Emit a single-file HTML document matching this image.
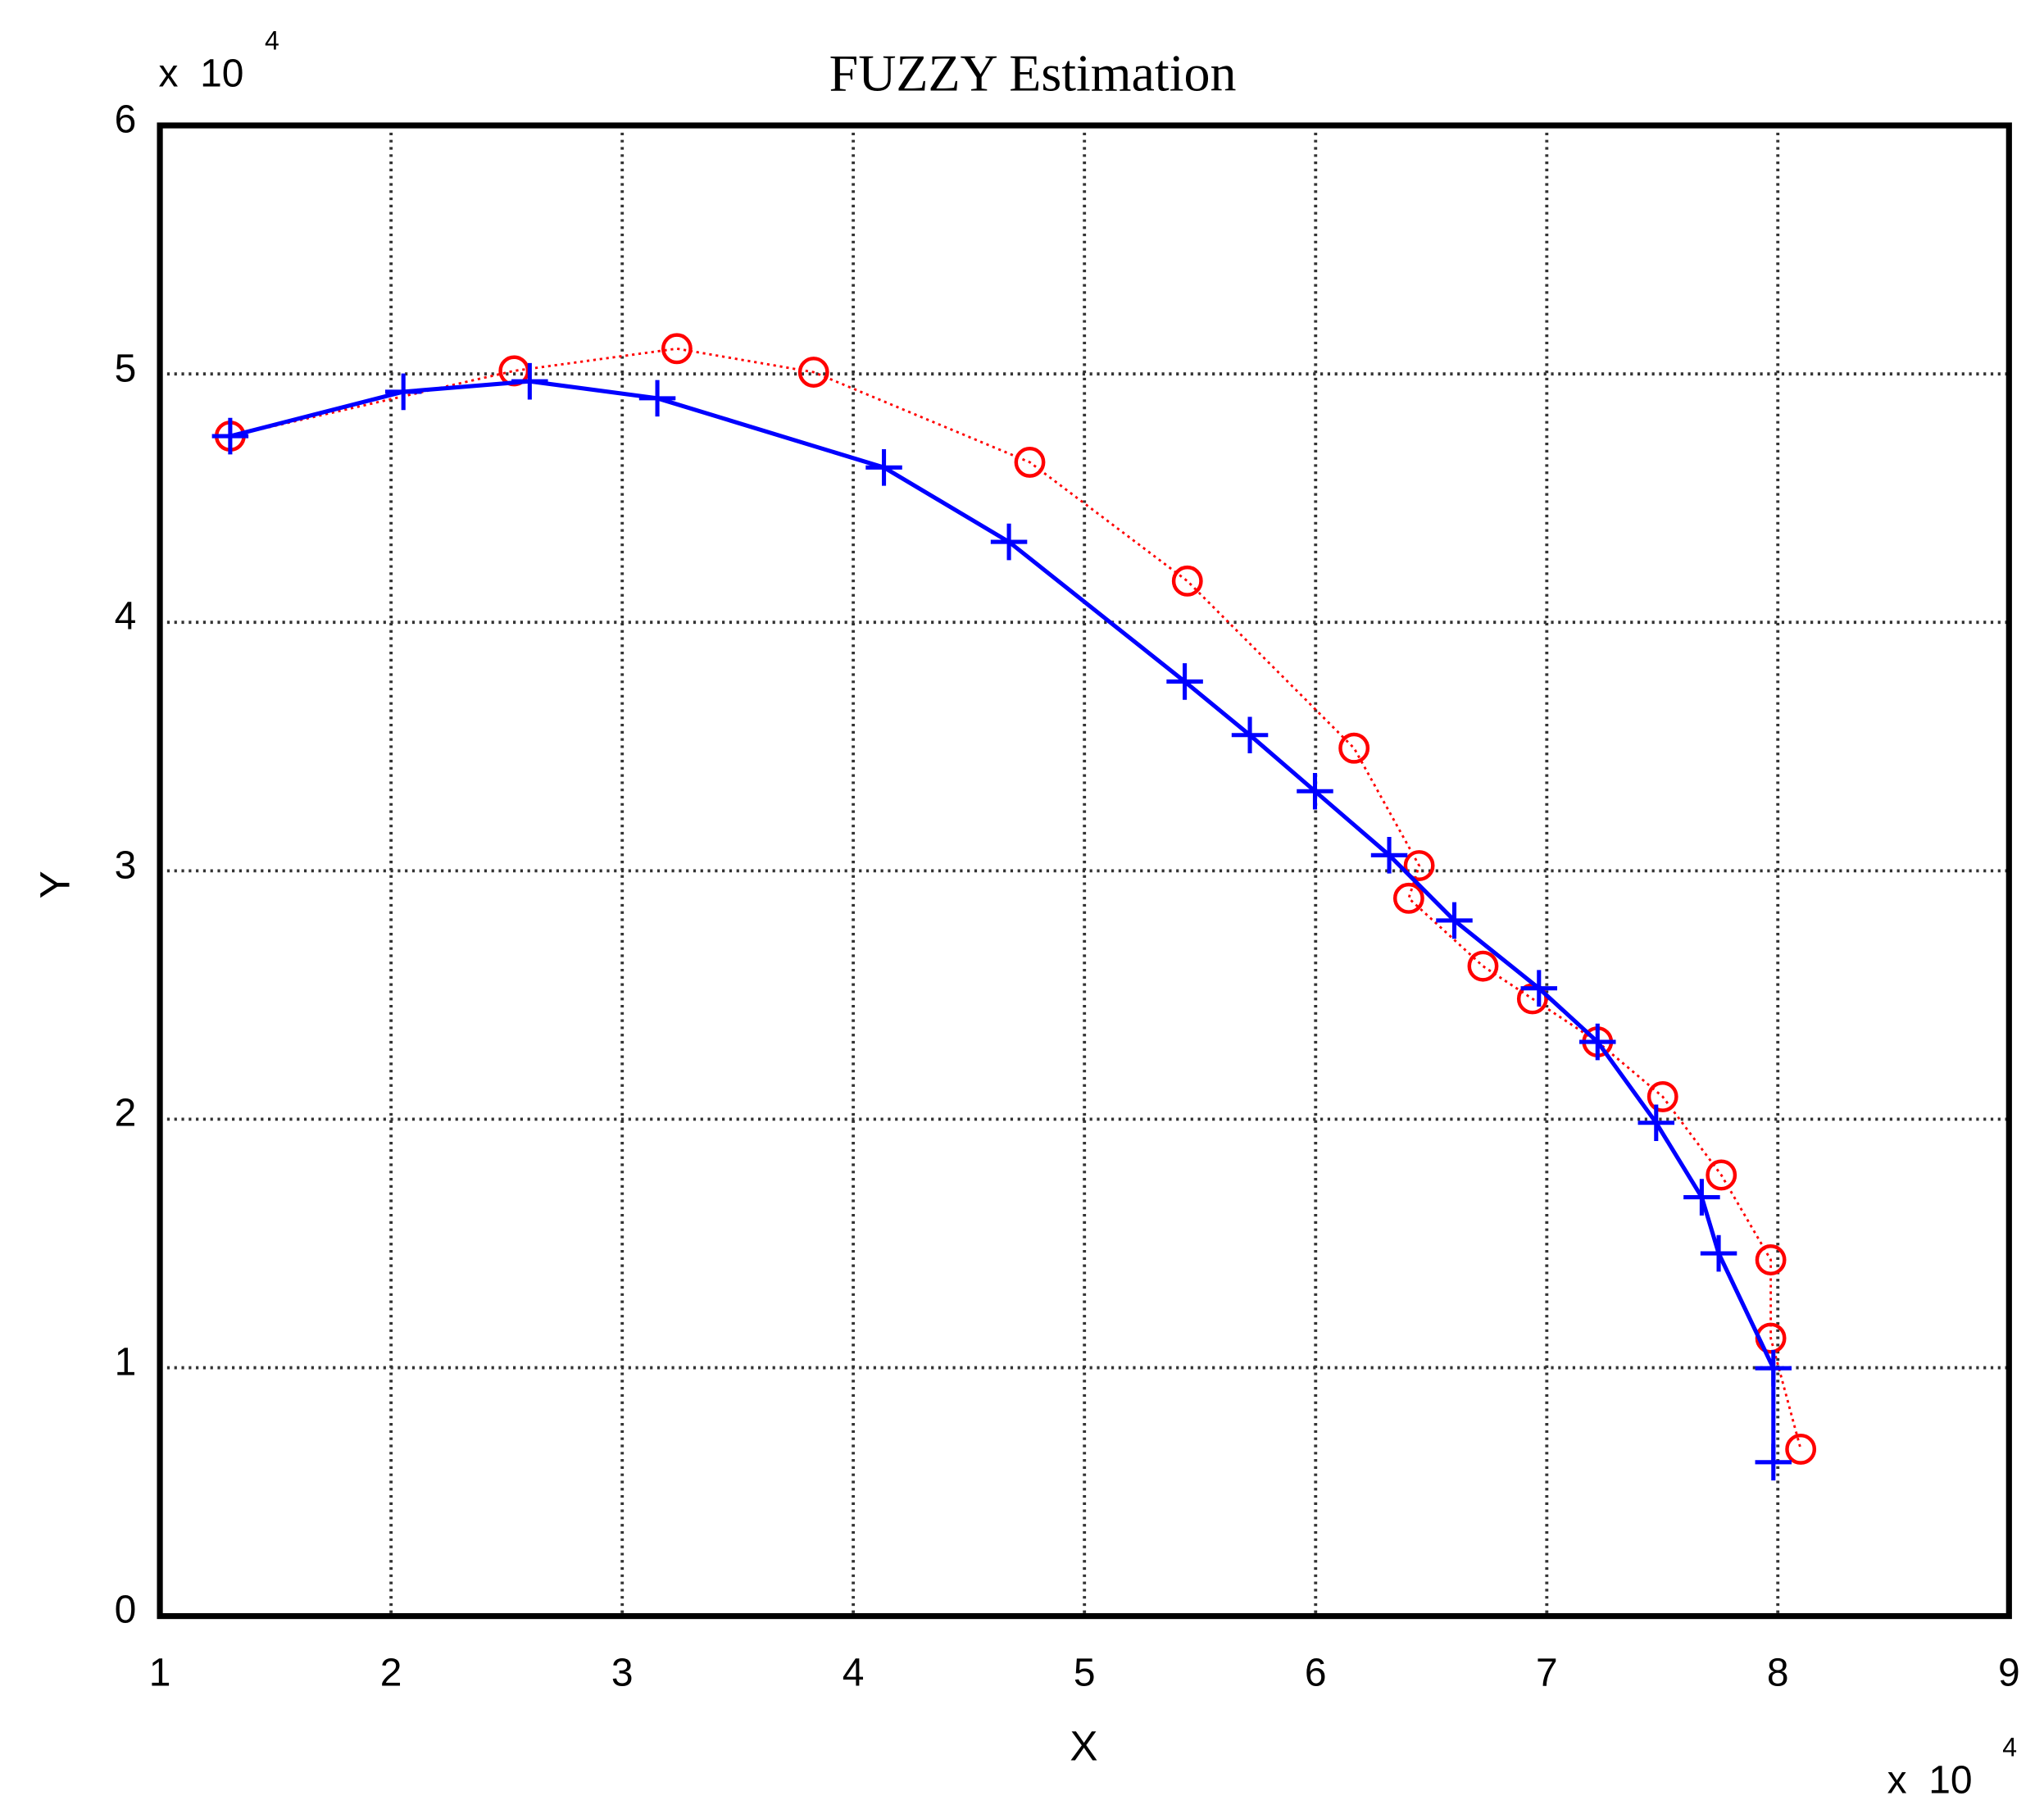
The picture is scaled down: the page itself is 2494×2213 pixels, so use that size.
<!DOCTYPE html>
<html><head><meta charset="utf-8"><style>
html,body{margin:0;padding:0;background:#fff;}
svg{display:block;}
text{font-family:"Liberation Sans",sans-serif;fill:#000;}
</style></head><body>
<svg width="2494" height="2213" viewBox="0 0 1559.7 1384" preserveAspectRatio="none" xmlns="http://www.w3.org/2000/svg">
<rect x="0" y="0" width="1559.7" height="1384" fill="#fff"/>
<g stroke="#333" stroke-width="2.4" stroke-dasharray="2,3.5" fill="none">
<line x1="298.4" y1="95.7" x2="298.4" y2="1233"/>
<line x1="474.8" y1="95.7" x2="474.8" y2="1233"/>
<line x1="651.1" y1="95.7" x2="651.1" y2="1233"/>
<line x1="827.5" y1="95.7" x2="827.5" y2="1233"/>
<line x1="1003.9" y1="95.7" x2="1003.9" y2="1233"/>
<line x1="1180.3" y1="95.7" x2="1180.3" y2="1233"/>
<line x1="1356.6" y1="95.7" x2="1356.6" y2="1233"/>
<line x1="122" y1="285.3" x2="1533" y2="285.3"/>
<line x1="122" y1="474.8" x2="1533" y2="474.8"/>
<line x1="122" y1="664.4" x2="1533" y2="664.4"/>
<line x1="122" y1="853.9" x2="1533" y2="853.9"/>
<line x1="122" y1="1043.5" x2="1533" y2="1043.5"/>
</g>
<rect x="122" y="95.7" width="1411" height="1137.3" fill="none" stroke="#000" stroke-width="4.5"/>
<g transform="translate(122,95.7) scale(0.9937,0.996) translate(-121,-96)">
<polyline fill="none" stroke="#ff0000" stroke-width="1.8" stroke-dasharray="2,3" points="175,334 393,284 518,267 623,285 789,354 910,445 1038,573 1088,663 1080,688 1137,740 1175,765 1225,798 1275,840 1320,900 1358,965 1358,1025 1381,1110"/>
<g fill="none" stroke="#ff0000" stroke-width="2.8">
<circle cx="175" cy="334" r="10.5"/><circle cx="393" cy="284" r="10.5"/><circle cx="518" cy="267" r="10.5"/><circle cx="623" cy="285" r="10.5"/><circle cx="789" cy="354" r="10.5"/><circle cx="910" cy="445" r="10.5"/><circle cx="1038" cy="573" r="10.5"/><circle cx="1088" cy="663" r="10.5"/><circle cx="1080" cy="688" r="10.5"/><circle cx="1137" cy="740" r="10.5"/><circle cx="1175" cy="765" r="10.5"/><circle cx="1225" cy="798" r="10.5"/><circle cx="1275" cy="840" r="10.5"/><circle cx="1320" cy="900" r="10.5"/><circle cx="1358" cy="965" r="10.5"/><circle cx="1358" cy="1025" r="10.5"/><circle cx="1381" cy="1110" r="10.5"/>
</g>
<polyline fill="none" stroke="#0000ff" stroke-width="3.2" points="175,334 308,300 405,292 503,305 677,358 773,415 908,522 958,563 1008,606 1065,655 1115,705 1180,757 1225,798 1270,860 1305,917 1318,960 1360,1048 1360,1120"/>
<g stroke="#0000ff" stroke-width="3.2" fill="none">
<path d="M161,334h28M175,320v28 M294,300h28M308,286v28 M391,292h28M405,278v28 M489,305h28M503,291v28 M663,358h28M677,344v28 M759,415h28M773,401v28 M894,522h28M908,508v28 M944,563h28M958,549v28 M994,606h28M1008,592v28 M1051,655h28M1065,641v28 M1101,705h28M1115,691v28 M1166,757h28M1180,743v28 M1211,798h28M1225,784v28 M1256,860h28M1270,846v28 M1291,917h28M1305,903v28 M1304,960h28M1318,946v28 M1346,1048h28M1360,1034v28 M1346,1120h28M1360,1106v28"/>
</g>
</g>
<text x="788" y="69" text-anchor="middle" style="font-family:'Liberation Serif',serif;font-size:40px;">FUZZY Estimation</text>
<g font-size="30" text-anchor="end">
<text x="104" y="101">6</text>
<text x="104" y="291">5</text>
<text x="104" y="480">4</text>
<text x="104" y="670">3</text>
<text x="104" y="859">2</text>
<text x="104" y="1049">1</text>
<text x="104" y="1238">0</text>
</g>
<g font-size="30" text-anchor="middle">
<text x="122" y="1286">1</text>
<text x="298.4" y="1286">2</text>
<text x="474.8" y="1286">3</text>
<text x="651.1" y="1286">4</text>
<text x="827.5" y="1286">5</text>
<text x="1003.9" y="1286">6</text>
<text x="1180.3" y="1286">7</text>
<text x="1356.6" y="1286">8</text>
<text x="1533" y="1286">9</text>
</g>
<text x="827" y="1343" font-size="32" text-anchor="middle">X</text>
<text transform="translate(53,675) rotate(-90)" font-size="32" text-anchor="middle">Y</text>
<text x="121" y="66" font-size="30">x&#160; 10</text>
<text x="202" y="38" font-size="20">4</text>
<text x="1440" y="1368" font-size="30">x&#160; 10</text>
<text x="1528" y="1340" font-size="20">4</text>
</svg>
</body></html>
